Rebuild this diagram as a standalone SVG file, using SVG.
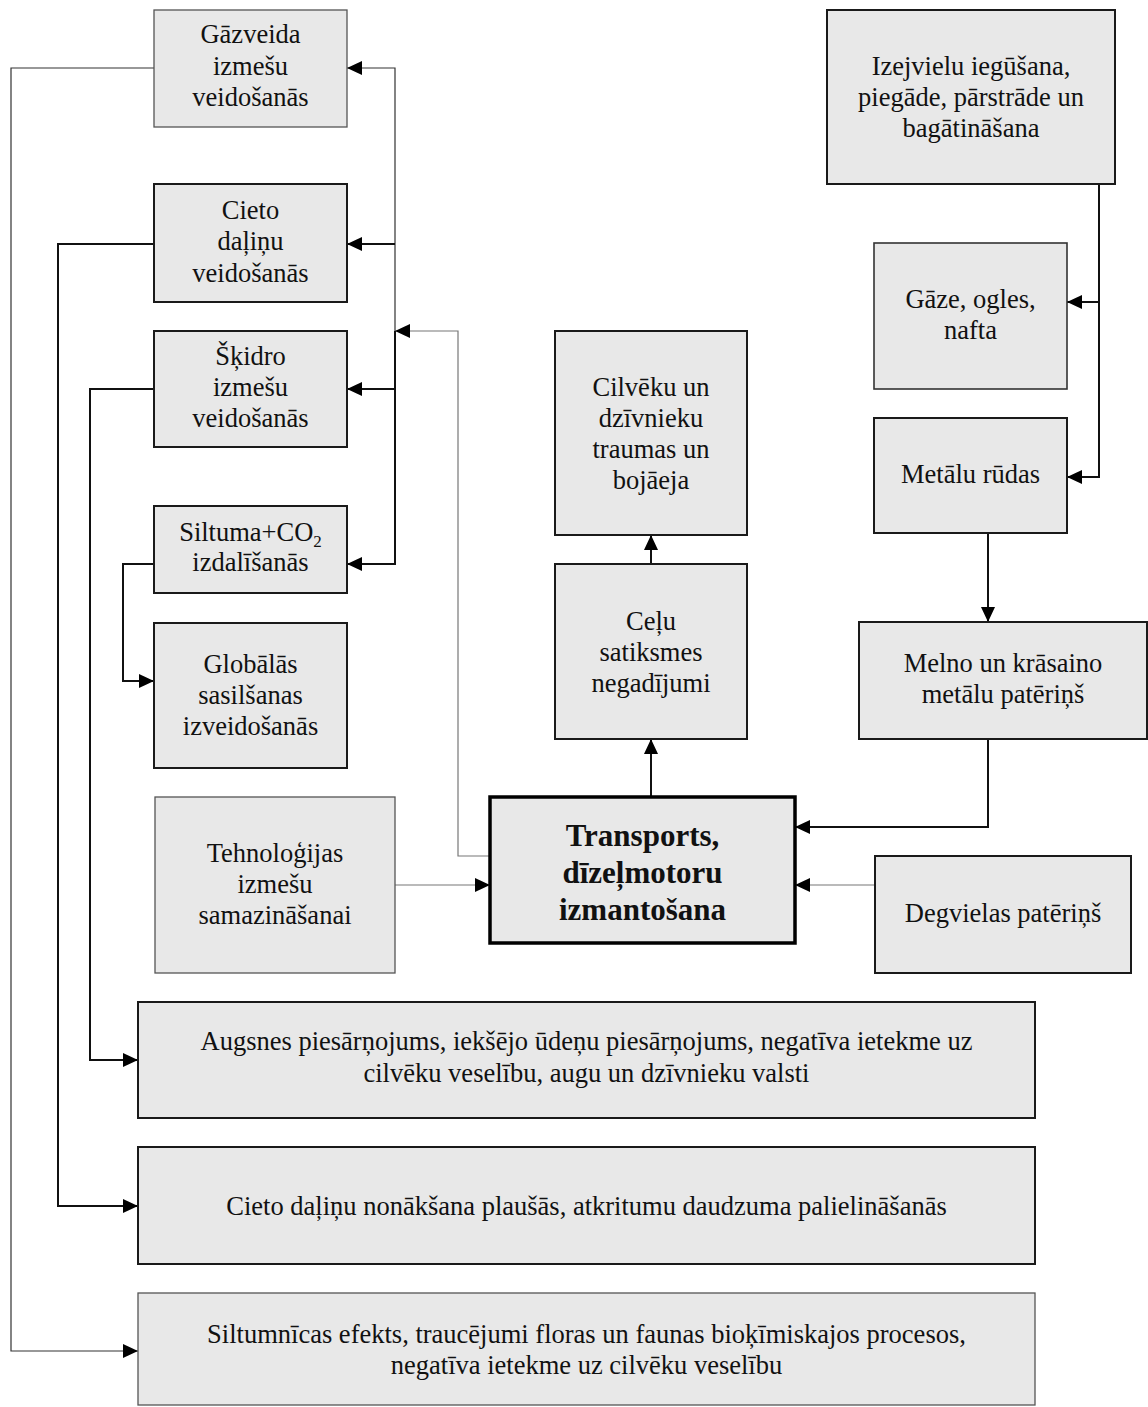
<svg xmlns="http://www.w3.org/2000/svg" width="1148" height="1407" viewBox="0 0 1148 1407">
  <style>
    .box { fill: #e8e8e8; stroke: #1a1a1a; stroke-width: 2; }
    .box.mid { stroke: #333; stroke-width: 1.6; }
    .box.thin { stroke: #555; stroke-width: 1.3; }
    .box.main { stroke: #000; stroke-width: 3.5; }
    text { font-family: "Liberation Serif", "Times New Roman", serif; font-size: 26.5px; fill: #111; text-anchor: middle; }
    text.big { font-size: 31px; font-weight: bold; }
    .ln { fill: none; stroke: #111; stroke-width: 2; }
    .ln.thin { stroke: #333; stroke-width: 1.2; }
    .ln.gray { stroke: #777; stroke-width: 1.2; }
  </style>
  <defs>
    <marker id="arr" markerUnits="userSpaceOnUse" markerWidth="16" markerHeight="15" refX="15" refY="7" orient="auto">
      <path d="M0,0 L15,7 L0,14 z" fill="#000"/>
    </marker>
  </defs>

  <rect width="1148" height="1407" fill="#fff"/>

  <!-- connectors -->
  <g id="connectors">
    <!-- emission branch from transport -->
    <path class="ln gray" d="M490,856 H458 V331 H395" marker-end="url(#arr)"/>
    <path class="ln thin" d="M395,331 V68 H347" marker-end="url(#arr)"/>
    <path class="ln" d="M395,244 H347" marker-end="url(#arr)"/>
    <path class="ln" d="M395,331 V564 H347" marker-end="url(#arr)"/>
    <path class="ln" d="M395,389 H347" marker-end="url(#arr)"/>
    <!-- left feedback lines to consequences -->
    <path class="ln thin" d="M154,68 H11 V1351 H138" marker-end="url(#arr)"/>
    <path class="ln" d="M154,244 H58 V1206 H138" marker-end="url(#arr)"/>
    <path class="ln" d="M154,389 H90 V1060 H138" marker-end="url(#arr)"/>
    <path class="ln" d="M154,564 H123 V681 H154" marker-end="url(#arr)"/>
    <!-- accidents chain -->
    <path class="ln" d="M651,797 V739" marker-end="url(#arr)"/>
    <path class="ln" d="M651,564 V535" marker-end="url(#arr)"/>
    <!-- raw materials -->
    <path class="ln" d="M1099,184 V477 H1067" marker-end="url(#arr)"/>
    <path class="ln" d="M1099,302 H1067" marker-end="url(#arr)"/>
    <path class="ln" d="M988,533 V622" marker-end="url(#arr)"/>
    <path class="ln" d="M988,739 V827 H795" marker-end="url(#arr)"/>
    <!-- inputs to transport -->
    <path class="ln gray" d="M395,885 H490" marker-end="url(#arr)"/>
    <path class="ln gray" d="M875,885 H795" marker-end="url(#arr)"/>
  </g>

  <g id="n-gazveida">
    <rect class="box thin" x="154" y="10" width="193" height="117"/>
    <text x="250.5" y="43">Gāzveida</text>
    <text x="250.5" y="75">izmešu</text>
    <text x="250.5" y="106">veidošanās</text>
  </g>
  <g id="n-cieto">
    <rect class="box" x="154" y="184" width="193" height="118"/>
    <text x="250.5" y="219">Cieto</text>
    <text x="250.5" y="250">daļiņu</text>
    <text x="250.5" y="282">veidošanās</text>
  </g>
  <g id="n-skidro">
    <rect class="box" x="154" y="331" width="193" height="116"/>
    <text x="250.5" y="365">Šķidro</text>
    <text x="250.5" y="396">izmešu</text>
    <text x="250.5" y="427">veidošanās</text>
  </g>
  <g id="n-siltuma">
    <rect class="box" x="154" y="506" width="193" height="87"/>
    <text x="250.5" y="541">Siltuma+CO<tspan font-size="17" dy="6">2</tspan></text>
    <text x="250.5" y="571">izdalīšanās</text>
  </g>
  <g id="n-globalas">
    <rect class="box" x="154" y="623" width="193" height="145"/>
    <text x="250.5" y="673">Globālās</text>
    <text x="250.5" y="704">sasilšanas</text>
    <text x="250.5" y="735">izveidošanās</text>
  </g>
  <g id="n-tehnologijas">
    <rect class="box thin" x="155" y="797" width="240" height="176"/>
    <text x="275" y="862">Tehnoloģijas</text>
    <text x="275" y="893">izmešu</text>
    <text x="275" y="924">samazināšanai</text>
  </g>
  <g id="n-cilveku">
    <rect class="box" x="555" y="331" width="192" height="204"/>
    <text x="651" y="396">Cilvēku un</text>
    <text x="651" y="427">dzīvnieku</text>
    <text x="651" y="458">traumas un</text>
    <text x="651" y="489">bojāeja</text>
  </g>
  <g id="n-celu">
    <rect class="box" x="555" y="564" width="192" height="175"/>
    <text x="651" y="630">Ceļu</text>
    <text x="651" y="661">satiksmes</text>
    <text x="651" y="692">negadījumi</text>
  </g>
  <g id="n-transports">
    <rect class="box main" x="490" y="797" width="305" height="146"/>
    <text class="big" x="642.5" y="846">Transports,</text>
    <text class="big" x="642.5" y="883">dīzeļmotoru</text>
    <text class="big" x="642.5" y="920">izmantošana</text>
  </g>
  <g id="n-izejvielu">
    <rect class="box" x="827" y="10" width="288" height="174"/>
    <text x="971" y="75">Izejvielu iegūšana,</text>
    <text x="971" y="106">piegāde, pārstrāde un</text>
    <text x="971" y="137">bagātināšana</text>
  </g>
  <g id="n-gaze">
    <rect class="box mid" x="874" y="243" width="193" height="146"/>
    <text x="970.5" y="308">Gāze, ogles,</text>
    <text x="970.5" y="339">nafta</text>
  </g>
  <g id="n-metalu">
    <rect class="box" x="874" y="418" width="193" height="115"/>
    <text x="970.5" y="483">Metālu rūdas</text>
  </g>
  <g id="n-melno">
    <rect class="box" x="859" y="622" width="288" height="117"/>
    <text x="1003" y="672">Melno un krāsaino</text>
    <text x="1003" y="703">metālu patēriņš</text>
  </g>
  <g id="n-degvielas">
    <rect class="box" x="875" y="856" width="256" height="117"/>
    <text x="1003" y="922">Degvielas patēriņš</text>
  </g>
  <g id="n-augsnes">
    <rect class="box" x="138" y="1002" width="897" height="116"/>
    <text x="586.5" y="1050">Augsnes piesārņojums, iekšējo ūdeņu piesārņojums, negatīva ietekme uz</text>
    <text x="586.5" y="1082">cilvēku veselību, augu un dzīvnieku valsti</text>
  </g>
  <g id="n-plausas">
    <rect class="box" x="138" y="1147" width="897" height="117"/>
    <text x="586.5" y="1215">Cieto daļiņu nonākšana plaušās, atkritumu daudzuma palielināšanās</text>
  </g>
  <g id="n-siltumnicas">
    <rect class="box thin" x="138" y="1293" width="897" height="112"/>
    <text x="586.5" y="1343">Siltumnīcas efekts, traucējumi floras un faunas bioķīmiskajos procesos,</text>
    <text x="586.5" y="1374">negatīva ietekme uz cilvēku veselību</text>
  </g>
</svg>
